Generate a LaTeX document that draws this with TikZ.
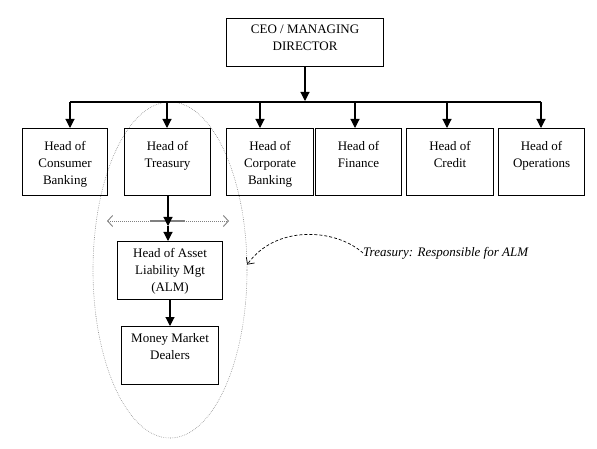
\documentclass[tikz,border=0pt]{standalone}
\usepackage{fontspec}
\setmainfont{Liberation Serif}
\usetikzlibrary{arrows.meta,shapes.geometric}
\begin{document}
\begin{tikzpicture}[x=1pt,y=-1pt,
  box/.style={draw, line width=1.1pt, inner sep=0pt, anchor=north west},
  txt/.style={anchor=north, align=center, inner sep=0pt, font=\fontsize{13}{17}\selectfont},
  arr/.style={line width=1.1pt, -{Triangle[length=9pt,width=9pt]}},
  conn/.style={line width=1.1pt}]
\useasboundingbox (0,0) rectangle (597,449);
% ellipse
\node[ellipse, draw=gray, line width=0.6pt, dash pattern=on 0.6pt off 1.2pt, minimum width=154pt, minimum height=336pt, inner sep=0pt] (oval) at (170,270) {};
% CEO
\node[box, minimum width=157pt, minimum height=48pt] (ceo) at (226,18) {};
\node[txt] (ceot) at ([yshift=-7pt]ceo.north) {CEO / MANAGING\\DIRECTOR};
% second row boxes
\node[box, minimum width=85pt, minimum height=67pt] (cb) at (22,128) {};
\node[box, minimum width=86pt, minimum height=67pt] (tr) at (124,128) {};
\node[box, minimum width=87pt, minimum height=67pt] (co) at (226,128) {};
\node[box, minimum width=86pt, minimum height=67pt] (fi) at (315,128) {};
\node[box, minimum width=87pt, minimum height=67pt] (cr) at (406,128) {};
\node[box, minimum width=86pt, minimum height=67pt] (op) at (498,128) {};
\node[txt] (cbt) at ([yshift=-13pt]cb.north) {Head of\\Consumer\\Banking};
\node[txt] (trt) at ([yshift=-13pt]tr.north) {Head of\\Treasury};
\node[txt] (cot) at ([yshift=-13pt]co.north) {Head of\\Corporate\\Banking};
\node[txt] (fit) at ([yshift=-13pt]fi.north) {Head of\\Finance};
\node[txt] (crt) at ([yshift=-13pt]cr.north) {Head of\\Credit};
\node[txt] (opt) at ([yshift=-13pt]op.north) {Head of\\Operations};
% ALM and dealers
\node[box, minimum width=105pt, minimum height=58pt] (alm) at (117,241) {};
\node[txt] (almt) at ([yshift=-7pt]alm.north) {Head of Asset\\Liability Mgt\\(ALM)};
\node[box, minimum width=97pt, minimum height=58pt] (mm) at (121,326) {};
\node[txt] (mmt) at ([yshift=-7pt]mm.north) {Money Market\\Dealers};
% bus
\coordinate (busL) at (70,102);
\coordinate (busR) at (541,102);
\coordinate (d1) at (70,102);
\coordinate (d2) at (167,102);
\coordinate (d3) at (260,102);
\coordinate (d4) at (355,102);
\coordinate (d5) at (447,102);
\coordinate (d6) at (541,102);
\coordinate (ceoin) at (305,101);
\draw[arr] (ceo.south -| ceoin) -- (ceoin);
\draw[conn] (busL) -- (busR);
\draw[arr] (d1) -- (d1 |- cb.north);
\draw[arr] (d2) -- (d2 |- tr.north);
\draw[arr] (d3) -- (d3 |- co.north);
\draw[arr] (d4) -- (d4 |- fi.north);
\draw[arr] (d5) -- (d5 |- cr.north);
\draw[arr] (d6) -- (d6 |- op.north);
% grey dotted double arrow
\coordinate (hl) at (107,221);
\coordinate (hr) at (229,221);
\coordinate (sl) at (150,221);
\coordinate (sr) at (185,221);
\draw[gray, line width=0.9pt, dash pattern=on 1pt off 1pt, {Straight Barb[length=5pt,width=11pt]}-{Straight Barb[length=5pt,width=11pt]}] (hl) -- (hr);
\draw[gray, line width=1.1pt] (sl) -- (sr);
% treasury to ALM
\coordinate (mid) at (168,226);
\draw[arr] (tr.south -| mid) -- (mid);
\draw[arr] (mid) -- (mid |- alm.north);
\draw[arr] (alm.south -| 170,0) -- (mm.north -| 170,0);
% note
\node[anchor=west, inner sep=0pt, font=\fontsize{13}{16}\selectfont\itshape] (note) at (363,253) {Treasury: Responsible for ALM};
\draw[black, line width=0.7pt, dash pattern=on 3pt off 2pt, -{Straight Barb[length=5pt,width=10pt]}] (note.west) .. controls (335,228) and (275,225) .. (oval.4);
\end{tikzpicture}
\end{document}
